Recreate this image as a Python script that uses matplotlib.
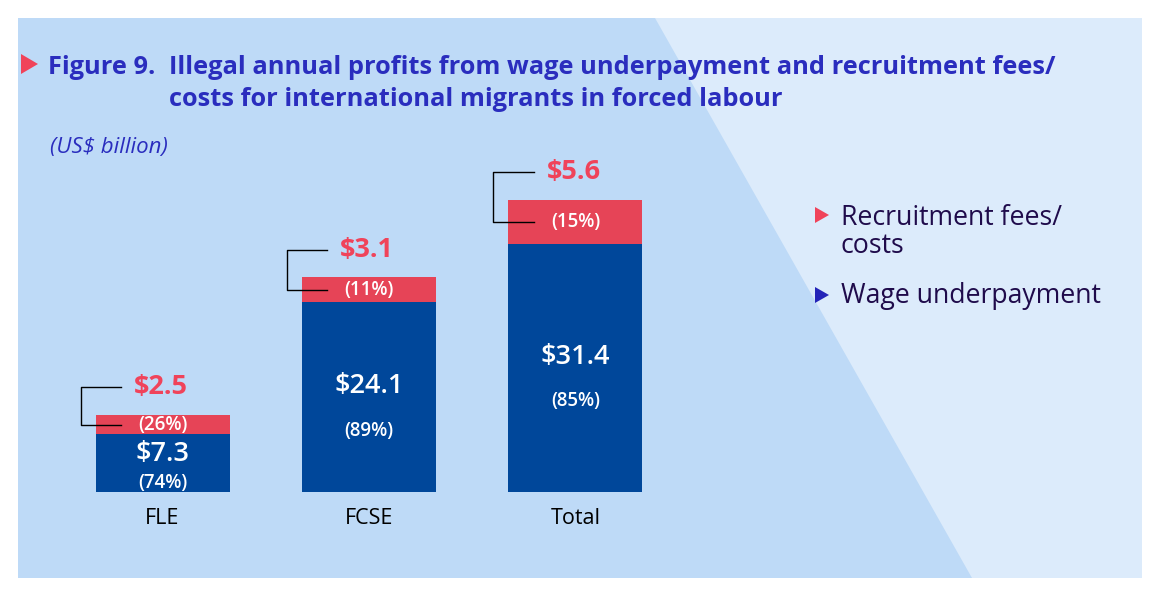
import matplotlib.pyplot as plt
from matplotlib.patches import Polygon, Rectangle

plt.rcParams['font.family'] = ['Open Sans', 'DejaVu Sans']

categories = ['FLE', 'FCSE', 'Total']
wage = [7.3, 24.1, 31.4]
fees = [2.5, 3.1, 5.6]
wage_pct = ['(74%)', '(89%)', '(85%)']
fees_pct = ['(26%)', '(11%)', '(15%)']

BLUE = '#00479A'
RED = '#E64457'
RED_TXT = '#F0435A'
TITLE = '#2A2DBE'
LEGEND_TXT = '#1F0B4B'
PANEL = '#BEDAF7'
LIGHT = '#DCEBFB'

W, H = 1158, 597
fig = plt.figure(figsize=(W / 100, H / 100), dpi=100)
fig.patch.set_facecolor('white')

# axes spanning the whole figure; limits chosen so bars land where the original has them
ax = fig.add_axes([0, 0, 1, 1])
px_per_cat, x0 = 206.5, 162.5
px_per_unit, base = 7.89, 492
ax.set_xlim(-x0 / px_per_cat, (W - x0) / px_per_cat)
ax.set_ylim(-(H - base) / px_per_unit, base / px_per_unit)
ax.axis('off')

def fx(p):
    return p / W

def fy(p):
    return 1 - p / H

def tri(x, y, w, h, color):
    # right-pointing triangle, (x, y) = left edge / vertical centre in pixels
    pts = [(fx(x), fy(y - h / 2)), (fx(x), fy(y + h / 2)), (fx(x + w), fy(y))]
    ax.add_patch(Polygon(pts, closed=True, transform=fig.transFigure,
                         facecolor=color, edgecolor='none', zorder=5))

# background panel with lighter diagonal region
ax.add_patch(Rectangle((fx(18), fy(578)), fx(1142) - fx(18), fy(18) - fy(578),
                       transform=fig.transFigure, facecolor=PANEL, edgecolor='none', zorder=0))
ax.add_patch(Polygon([(fx(655), fy(18)), (fx(1142), fy(18)), (fx(1142), fy(578)), (fx(972), fy(578))],
                     closed=True, transform=fig.transFigure, facecolor=LIGHT, edgecolor='none', zorder=0))

xs = list(range(len(categories)))
bw = 134 / px_per_cat
ax.bar(xs, wage, width=bw, color=BLUE, zorder=2)
ax.bar(xs, fees, width=bw, bottom=wage, color=RED, zorder=2)

# offsets (points) of value / percent labels from the blue segment middle
val_off = [6.5, 8, 8]
pct_off = [-14, -24.5, -24]
for i, x in enumerate(xs):
    mid = wage[i] / 2
    ax.annotate(f'${wage[i]}', (x, mid), xytext=(0, val_off[i]), textcoords='offset points',
                ha='center', va='center', color='white', fontsize=19.5, fontweight='semibold', zorder=3)
    ax.annotate(wage_pct[i], (x, mid), xytext=(0, pct_off[i]), textcoords='offset points',
                ha='center', va='center', color='white', fontsize=13.5, fontweight='semibold', zorder=3)
    fmid = wage[i] + fees[i] / 2
    ax.text(x, fmid, fees_pct[i], ha='center', va='center', color='white',
            fontsize=13.5, fontweight='semibold', zorder=3)
    top = wage[i] + fees[i]
    label_y = top + 3.5
    left = x - bw / 2
    lx0 = left - 15 / px_per_cat
    lx1 = left + 25 / px_per_cat
    ax.plot([lx1, lx0, lx0, lx1], [label_y, label_y, fmid, fmid], color='black', lw=1, zorder=4)
    ax.text(left + 38 / px_per_cat, label_y, f'${fees[i]}', ha='left', va='center',
            color=RED_TXT, fontsize=19.5, fontweight='bold', zorder=3)
    ax.text(x, -4.06, categories[i], ha='center', va='baseline', color='black', fontsize=15.5)

# title
tri(21, 64, 17, 20, RED_TXT)
fig.text(fx(48), fy(74), 'Figure 9.', color=TITLE, fontsize=18.3, fontweight='bold', va='baseline')
fig.text(fx(169), fy(74), 'Illegal annual profits from wage underpayment and recruitment fees/',
         color=TITLE, fontsize=18.3, fontweight='bold', va='baseline')
fig.text(fx(169), fy(106), 'costs for international migrants in forced labour',
         color=TITLE, fontsize=18.3, fontweight='bold', va='baseline')
fig.text(fx(50), fy(153), '(US$ billion)', color=TITLE, fontsize=16, style='italic', va='baseline')

# legend
tri(815, 215, 14, 16, RED_TXT)
fig.text(fx(841), fy(225), 'Recruitment fees/', color=LEGEND_TXT, fontsize=19.2, va='baseline')
fig.text(fx(841), fy(253), 'costs', color=LEGEND_TXT, fontsize=19.2, va='baseline')
tri(815, 295, 14, 16, '#2424B8')
fig.text(fx(841), fy(303), 'Wage underpayment', color=LEGEND_TXT, fontsize=19.2, va='baseline')

fig.savefig('out.png', dpi=100)
